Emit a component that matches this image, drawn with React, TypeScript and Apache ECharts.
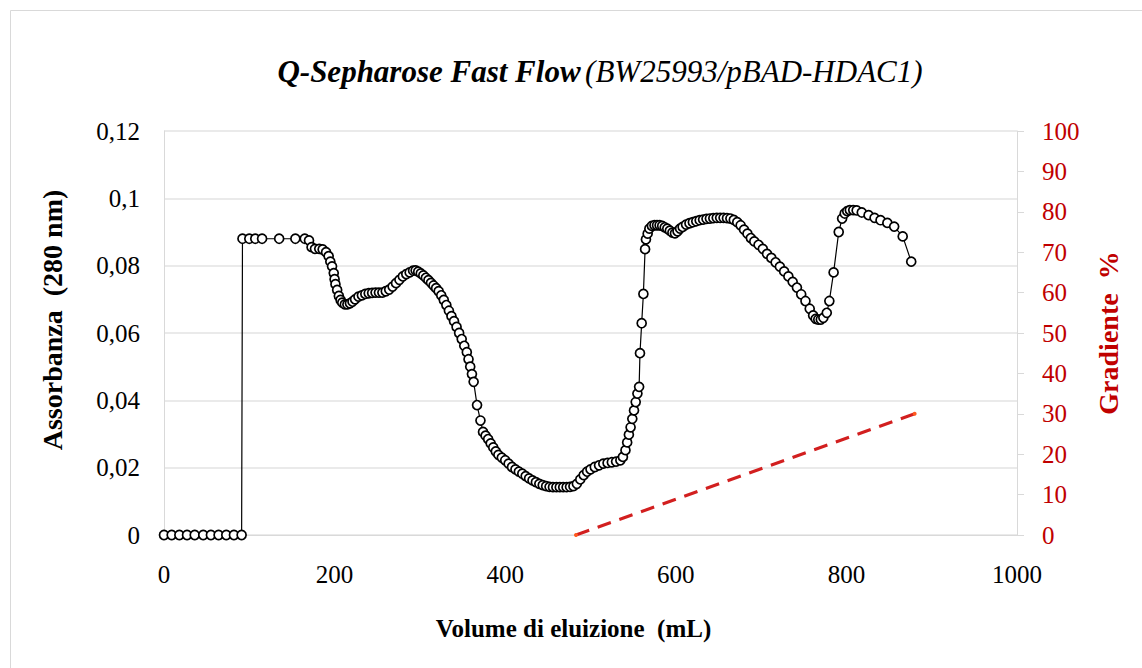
import React, { useEffect, useRef } from "react";
import * as echarts from "echarts";

const volume: number[] = [
  0, 9, 18, 27, 36, 46, 55, 64, 73, 82, 91,
  92, 100, 107, 115, 135, 154, 165, 170,
  173, 177, 182, 186, 190, 193, 195, 197, 199, 200, 201, 203, 205, 207, 209, 212, 215, 218, 221, 224, 228, 232, 236, 240, 244, 248, 252, 256, 260, 264, 268, 272, 276, 280, 284, 288, 292, 295, 298, 301, 304, 307, 310, 313, 316, 319, 322, 325, 328, 331, 334, 337, 340, 343, 346, 349, 352, 355, 357, 359, 361, 363,
  367, 371, 374, 377, 380, 383, 386, 389, 392, 396, 400, 404, 408, 412, 416, 420, 424, 428, 432, 436, 440, 444, 448, 452, 456, 460, 464, 468, 472, 476, 480, 484, 488, 492, 496, 500, 505, 510, 515, 520, 525, 530, 535, 538, 541, 543, 545, 547, 549, 551, 553, 555, 557, 558, 560, 562, 564, 565,
  567, 569, 572, 575, 578, 581, 584, 587, 590, 593, 596, 599, 602, 605, 608, 612, 616, 620, 624, 628, 632, 636, 640, 644, 648, 652, 656, 660, 664, 668, 672, 676, 680, 684, 688, 692, 697, 702, 707, 712, 717, 722, 727, 732, 737, 742, 747, 752, 757, 761, 764, 767, 770, 773, 777, 780, 785, 791, 795, 798, 801, 804, 808, 812, 818, 826, 833, 840, 848, 856, 866, 876,
];

const absorbance: number[] = [
  0, 0, 0, 0, 0, 0, 0, 0, 0, 0, 0,
  0.088, 0.088, 0.088, 0.088, 0.088, 0.088, 0.088, 0.0875,
  0.0855, 0.085, 0.085, 0.0848, 0.084, 0.0828, 0.0812, 0.0798, 0.0778, 0.076, 0.0745, 0.0728, 0.071, 0.0698, 0.069, 0.0685, 0.0685, 0.0688, 0.0693, 0.07, 0.0708, 0.0712, 0.0716, 0.0718, 0.0719, 0.072, 0.072, 0.072, 0.0724, 0.0729, 0.0738, 0.0748, 0.0758, 0.0768, 0.0775, 0.078, 0.0785, 0.0786, 0.0782, 0.0777, 0.0771, 0.0764, 0.0757, 0.0749, 0.0741, 0.0733, 0.0724, 0.0712, 0.0698, 0.0683, 0.0666, 0.065, 0.0635, 0.0618, 0.06, 0.0582, 0.0562, 0.0543, 0.0522, 0.05, 0.0478, 0.0455,
  0.0386, 0.034, 0.0306, 0.0295, 0.0285, 0.0272, 0.026, 0.0248, 0.0238, 0.023, 0.0222, 0.0212, 0.0202, 0.0195, 0.0188, 0.0182, 0.0175, 0.0168, 0.0162, 0.0157, 0.0152, 0.0148, 0.0145, 0.0143, 0.0142, 0.0142, 0.0142, 0.0142, 0.0142, 0.0143, 0.0145, 0.0152, 0.0165, 0.0178, 0.0188, 0.0195, 0.0202, 0.0207, 0.0212, 0.0214, 0.0216, 0.0218, 0.0222, 0.0232, 0.0252, 0.0275, 0.0298, 0.032, 0.0345, 0.037, 0.0395, 0.042, 0.044, 0.054, 0.0629, 0.0716, 0.0849, 0.0878,
  0.0895, 0.091, 0.0918, 0.092, 0.092, 0.092, 0.0918, 0.0914, 0.091, 0.0904, 0.0898, 0.0896, 0.0902, 0.091, 0.0915, 0.0922, 0.0926, 0.0929, 0.0932, 0.0935, 0.0937, 0.0939, 0.094, 0.0941, 0.0942, 0.0942, 0.0942, 0.0941, 0.094, 0.0936, 0.0929, 0.092, 0.0907, 0.0895, 0.0882, 0.0872, 0.0862, 0.085, 0.0835, 0.0823, 0.081, 0.0797, 0.0783, 0.0768, 0.0752, 0.0735, 0.0715, 0.0695, 0.0672, 0.0652, 0.0642, 0.064, 0.064, 0.0645, 0.066, 0.0695, 0.078, 0.09, 0.094, 0.0955, 0.0962, 0.0965, 0.0965, 0.0964, 0.0958, 0.095, 0.0942, 0.0935, 0.0927, 0.0916, 0.0887, 0.0812,
];

const gradientVolume: number[] = [483, 880];
const gradientPercent: number[] = [0, 30];

const leftTicks: string[] = ["0", "0,02", "0,04", "0,06", "0,08", "0,1", "0,12"];

const FONT = "Liberation Serif";
const RED = "#c00000";

export default function App() {
  const ref = useRef<HTMLDivElement>(null);

  useEffect(() => {
    if (!ref.current) return;
    const chart = echarts.init(ref.current, undefined, { renderer: "svg" });
    const absData = volume.map((v, i) => [v, absorbance[i]]);
    const gradData = gradientVolume.map((v, i) => [v, gradientPercent[i]]);

    chart.setOption({
      animation: false,
      backgroundColor: "#ffffff",
      textStyle: { fontFamily: FONT },
      title: {
        text: "{a|Q-Sepharose Fast Flow} {b|(BW25993/pBAD-HDAC1)}",
        left: 595,
        top: 51,
        textAlign: "center",
        textStyle: {
          fontFamily: FONT,
          fontWeight: "normal",
          rich: {
            a: { fontFamily: FONT, fontSize: 31, fontWeight: "bold", fontStyle: "italic", color: "#000" },
            b: { fontFamily: FONT, fontSize: 31, fontWeight: "normal", fontStyle: "italic", color: "#000" },
          },
        },
      },
      graphic: [
        {
          type: "rect",
          shape: { x: 10.5, y: 10.5, width: 1140, height: 660 },
          style: { fill: "none", stroke: "#d9d9d9", lineWidth: 1 },
          silent: true,
        },
      ],
      grid: { left: 164, right: 125, top: 131, bottom: 133 },
      xAxis: {
        type: "value",
        min: 0,
        max: 1000,
        interval: 200,
        name: "Volume di eluizione  (mL)",
        nameLocation: "middle",
        nameGap: 81,
        nameTextStyle: {
          fontFamily: FONT,
          fontSize: 25,
          fontWeight: "bold",
          color: "#000",
          padding: [0, 34, 0, 0],
        },
        axisLine: { show: true, lineStyle: { color: "#d9d9d9", width: 1 } },
        axisTick: { show: false },
        splitLine: { show: false },
        axisLabel: {
          fontFamily: FONT,
          fontSize: 25,
          color: "#000",
          margin: 27,
          formatter: (val: number) => String(val),
        },
      },
      yAxis: [
        {
          type: "value",
          min: 0,
          max: 0.12,
          interval: 0.02,
          position: "left",
          name: "Assorbanza  (280 nm)",
          nameLocation: "middle",
          nameRotate: 90,
          nameGap: 98,
          nameTextStyle: {
            fontFamily: FONT,
            fontSize: 28,
            fontWeight: "bold",
            color: "#000",
            padding: [0, 0, 0, 26],
          },
          axisLine: { show: true, lineStyle: { color: "#d9d9d9", width: 1 } },
          axisTick: { show: false },
          splitLine: { show: true, lineStyle: { color: "#e3e3e3", width: 1.5 } },
          axisLabel: {
            fontFamily: FONT,
            fontSize: 25,
            color: "#000",
            margin: 24,
            formatter: (val: number) => leftTicks[Math.round(val / 0.02)] ?? "",
          },
        },
        {
          type: "value",
          min: 0,
          max: 100,
          interval: 10,
          position: "right",
          name: "Gradiente  %",
          nameLocation: "middle",
          nameRotate: 90,
          nameGap: 77,
          nameTextStyle: { fontFamily: FONT, fontSize: 28, fontWeight: "bold", color: RED },
          axisLine: { show: true, lineStyle: { color: "#d9d9d9", width: 1 } },
          axisTick: { show: true, length: 7, lineStyle: { color: "#d9d9d9" } },
          splitLine: { show: false },
          axisLabel: { fontFamily: FONT, fontSize: 25, color: RED, margin: 25 },
        },
      ],
      series: [
        {
          type: "line",
          name: "Assorbanza",
          data: absData,
          yAxisIndex: 0,
          symbol: "circle",
          symbolSize: 9,
          showAllSymbol: true,
          lineStyle: { color: "#000", width: 1.2 },
          itemStyle: { color: "#ffffff", borderColor: "#000", borderWidth: 1.7 },
          z: 3,
        },
        {
          type: "line",
          name: "Gradiente",
          data: gradData,
          yAxisIndex: 1,
          symbol: "circle",
          symbolSize: 4,
          showAllSymbol: true,
          lineStyle: { color: "#d21f1f", width: 3, type: [14, 9] },
          itemStyle: { color: "#ff5a1f", borderWidth: 0 },
          z: 2,
        },
      ],
    });

    return () => chart.dispose();
  }, []);

  return (
    <div
      ref={ref}
      style={{ position: "absolute", left: 0, top: 0, width: 1142, height: 668 }}
    />
  );
}
